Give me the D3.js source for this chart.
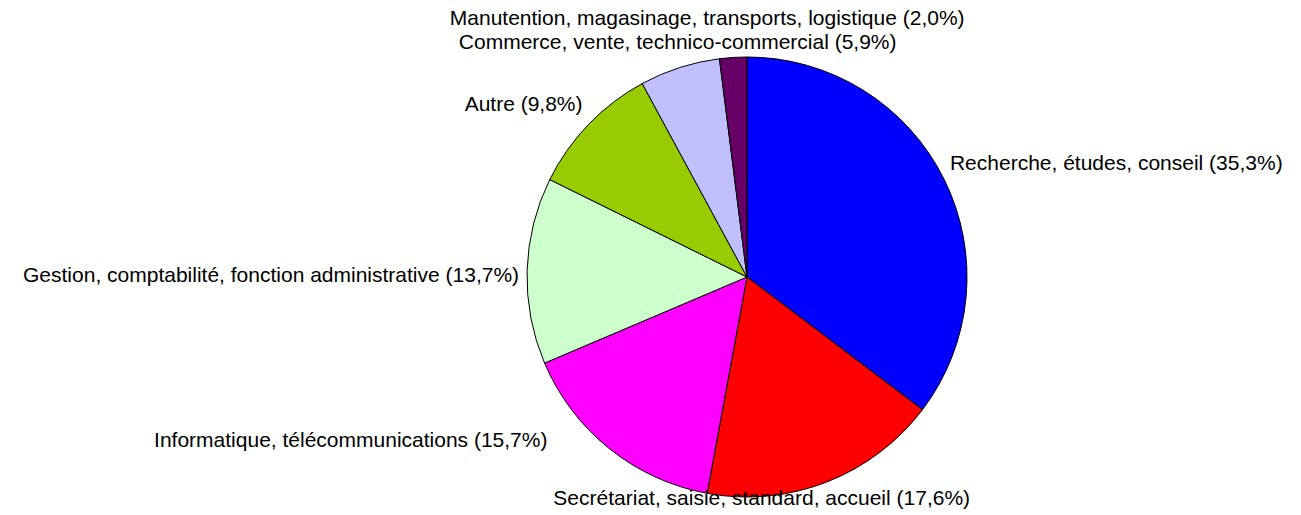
<!DOCTYPE html>
<html>
<head>
<meta charset="utf-8">
<script src="https://cdn.jsdelivr.net/npm/d3@7"></script>
<style>
  body { margin: 0; background: #fff; }
  text { font-family: "Liberation Sans", Arial, sans-serif; font-size: 21px; fill: #000; }
</style>
</head>
<body>
<script>
(function (d3) {
  'use strict'
  const w = 1301
  const h = 515

  const categories = [
    'Recherche, études, conseil',
    'Secrétariat, saisie, standard, accueil',
    'Informatique, télécommunications',
    'Gestion, comptabilité, fonction administrative',
    'Autre',
    'Commerce, vente, technico-commercial',
    'Manutention, magasinage, transports, logistique'
  ]
  const values = [35.3, 17.6, 15.7, 13.7, 9.8, 5.9, 2.0]
  const colors = ['#0000FF', '#FF0000', '#FF00FF', '#CCFFCC', '#99CC00', '#C0C0FF', '#660066']

  // label placement nudges (anchor, dx, dy) per slice
  const labelLayout = [
    { anchor: 'start', dx: 6, dy: -16 },
    { anchor: 'middle', dx: -65, dy: 16 },
    { anchor: 'end', dx: -62, dy: -9 },
    { anchor: 'end', dx: -8, dy: 4 },
    { anchor: 'end', dx: -6, dy: -21 },
    { anchor: 'middle', dx: -2, dy: -26 },
    { anchor: 'middle', dx: -26, dy: -40 }
  ]

  const cx = 747
  const cy = 277
  const r = 220

  const svg = d3.select('body').append('svg')
    .attr('width', w)
    .attr('height', h)

  const g = svg.append('g')
    .attr('transform', 'translate(' + cx + ',' + cy + ')')

  const data = values.map((v, i) => ({ name: categories[i], value: v, color: colors[i], i: i }))

  const pie = d3.pie().sort(null).value(d => d.value)
  const arc = d3.arc().innerRadius(0).outerRadius(r)
  const labelArc = d3.arc().innerRadius(r).outerRadius(r)

  const arcs = pie(data)

  g.selectAll('path')
    .data(arcs)
    .enter().append('path')
    .attr('d', arc)
    .attr('fill', d => d.data.color)
    .attr('stroke', '#000')
    .attr('stroke-width', 1)

  const fmt = v => v.toFixed(1).replace('.', ',')

  g.selectAll('text')
    .data(arcs)
    .enter().append('text')
    .attr('x', d => labelArc.centroid(d)[0] + labelLayout[d.data.i].dx)
    .attr('y', d => labelArc.centroid(d)[1] + labelLayout[d.data.i].dy)
    .attr('dy', '0.35em')
    .attr('text-anchor', d => labelLayout[d.data.i].anchor)
    .text(d => d.data.name + ' (' + fmt(d.data.value) + '%)')

}(d3))
</script>
</body>
</html>
